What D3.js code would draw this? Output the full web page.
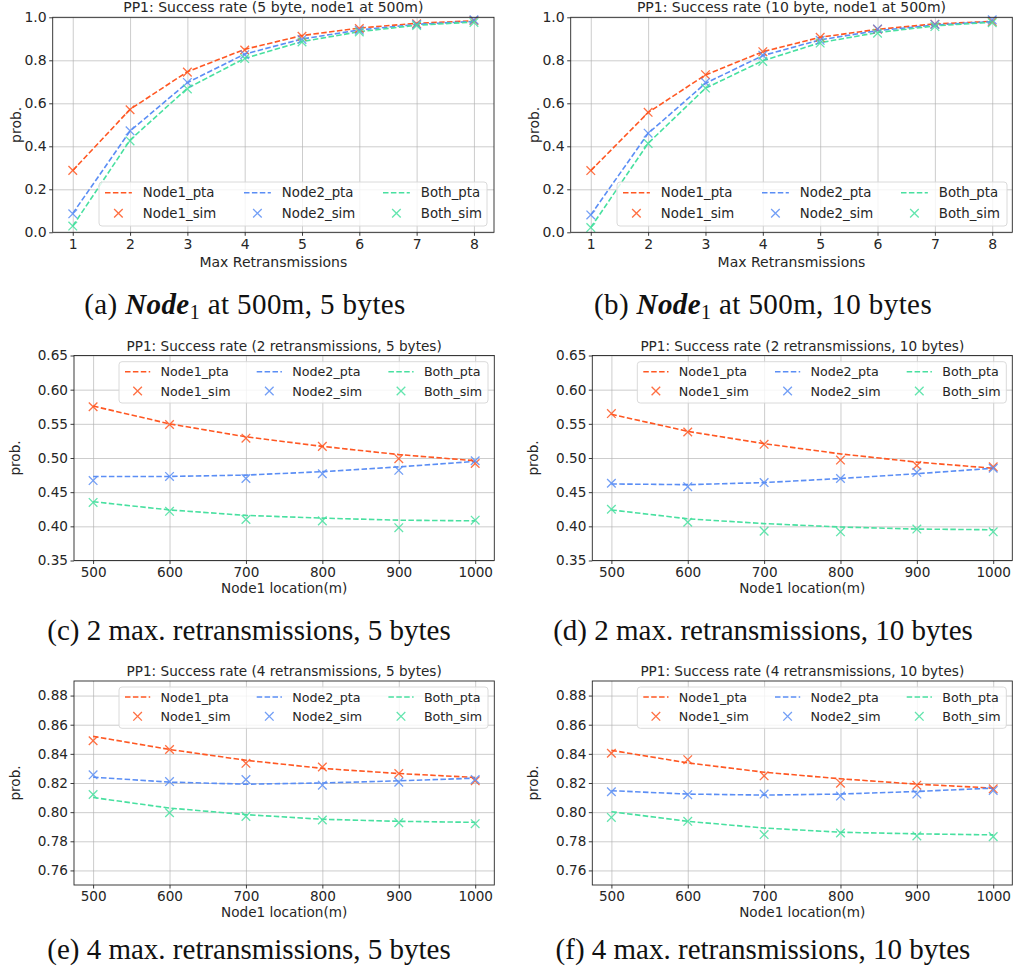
<!DOCTYPE html>
<meta charset="utf-8">
<style>
body { margin: 0; background: #fff; }
svg text { font-family: "DejaVu Sans", sans-serif; fill: #262626; }
.grid line { stroke: #b0b0b0; stroke-opacity: 0.7; stroke-width: 0.9; }
.grid path { display: none; }
.axis path, .axis line { stroke: #262626; stroke-width: 0.9; }
.caption { font-family: "Liberation Serif", serif; fill: #111; }
</style>
<svg id="fig" width="1013" height="974"></svg>
<script src="https://d3js.org/d3.v7.min.js"></script>
<script>

// x values
var retrans = [1, 2, 3, 4, 5, 6, 7, 8];
var locations = [500, 600, 700, 800, 900, 1000];
var names = ["Node1_pta", "Node1_sim", "Node2_pta", "Node2_sim", "Both_pta", "Both_sim"];

// (a) node1 at 500m, 5 bytes
var a_node1_pta = [0.287, 0.572, 0.747, 0.851, 0.915, 0.950, 0.972, 0.984];
var a_node1_sim = [0.288, 0.570, 0.745, 0.848, 0.912, 0.948, 0.970, 0.985];
var a_node2_pta = [0.088, 0.471, 0.696, 0.829, 0.899, 0.941, 0.967, 0.981];
var a_node2_sim = [0.086, 0.472, 0.697, 0.826, 0.897, 0.940, 0.967, 0.988];
var a_both_pta  = [0.029, 0.429, 0.670, 0.809, 0.887, 0.933, 0.963, 0.978];
var a_both_sim  = [0.029, 0.425, 0.667, 0.808, 0.885, 0.932, 0.962, 0.976];

// (b) node1 at 500m, 10 bytes
var b_node1_pta = [0.287, 0.557, 0.732, 0.840, 0.907, 0.944, 0.969, 0.981];
var b_node1_sim = [0.287, 0.558, 0.733, 0.840, 0.907, 0.944, 0.968, 0.980];
var b_node2_pta = [0.081, 0.460, 0.693, 0.822, 0.895, 0.938, 0.964, 0.980];
var b_node2_sim = [0.081, 0.461, 0.697, 0.824, 0.893, 0.946, 0.967, 0.988];
var b_both_pta  = [0.022, 0.414, 0.670, 0.798, 0.882, 0.929, 0.960, 0.977];
var b_both_sim  = [0.022, 0.413, 0.671, 0.795, 0.880, 0.926, 0.957, 0.975];

// (c) 2 retransmissions, 5 bytes
var c_node1_pta = [0.576, 0.550, 0.531, 0.517, 0.505, 0.496];
var c_node1_sim = [0.575, 0.549, 0.529, 0.517, 0.499, 0.492];
var c_node2_pta = [0.473, 0.473, 0.475, 0.480, 0.487, 0.495];
var c_node2_sim = [0.467, 0.473, 0.470, 0.477, 0.482, 0.496];
var c_both_pta  = [0.436, 0.424, 0.416, 0.412, 0.409, 0.408];
var c_both_sim  = [0.435, 0.422, 0.410, 0.408, 0.398, 0.409];

// (d) 2 retransmissions, 10 bytes
var d_node1_pta = [0.564, 0.539, 0.521, 0.506, 0.494, 0.485];
var d_node1_sim = [0.565, 0.538, 0.520, 0.497, 0.489, 0.487];
var d_node2_pta = [0.462, 0.461, 0.464, 0.470, 0.477, 0.485];
var d_node2_sim = [0.463, 0.458, 0.464, 0.470, 0.479, 0.485];
var d_both_pta  = [0.424, 0.411, 0.404, 0.399, 0.396, 0.395];
var d_both_sim  = [0.425, 0.406, 0.393, 0.392, 0.396, 0.392];

// (e) 4 retransmissions, 5 bytes
var e_node1_pta = [0.852, 0.843, 0.8356, 0.830, 0.8265, 0.8238];
var e_node1_sim = [0.849, 0.843, 0.8335, 0.831, 0.8265, 0.8215];
var e_node2_pta = [0.824, 0.8206, 0.8192, 0.820, 0.8215, 0.8233];
var e_node2_sim = [0.8256, 0.821, 0.8224, 0.8185, 0.8206, 0.8224];
var e_both_pta  = [0.810, 0.8028, 0.7983, 0.7951, 0.7937, 0.793];
var e_both_sim  = [0.8121, 0.7996, 0.7971, 0.7946, 0.7928, 0.7921];

// (f) 4 retransmissions, 10 bytes
var f_node1_pta = [0.8424, 0.8338, 0.8274, 0.8229, 0.8192, 0.8165];
var f_node1_sim = [0.8404, 0.836, 0.8249, 0.8199, 0.8185, 0.816];
var f_node2_pta = [0.8147, 0.8124, 0.8117, 0.8124, 0.8142, 0.8165];
var f_node2_sim = [0.814, 0.812, 0.8124, 0.811, 0.8124, 0.8149];
var f_both_pta  = [0.8003, 0.7937, 0.7891, 0.7862, 0.7851, 0.7844];
var f_both_sim  = [0.7964, 0.7937, 0.7846, 0.7857, 0.7837, 0.7832];

var ticksProb = [0, 0.2, 0.4, 0.6, 0.8, 1.0];
var ticks2 = [0.35, 0.40, 0.45, 0.50, 0.55, 0.60, 0.65];
var ticks4 = [0.76, 0.78, 0.80, 0.82, 0.84, 0.86, 0.88];

var colors = ["#ff5722", "#ff5722", "#5b8ef5", "#5b8ef5", "#48e0a0", "#48e0a0"];

var svg = d3.select("#fig");

var panels = [
  { l: 52.7, r: 494, t: 17.3, b: 232.3, xs: retrans, xdom: [0.65, 8.35], ydom: [0, 1], yt: ticksProb, yf: ".1f",
    title: "PP1: Success rate (5 byte, node1 at 500m)", xlabel: "Max Retransmissions",
    series: [a_node1_pta, a_node1_sim, a_node2_pta, a_node2_sim, a_both_pta, a_both_sim],
    fs: 14, lfs: 13.3, leg: { x: 99, y: 182, w: 388, h: 44, col: 139 }, cap: { x: 245, y: 314, tag: "(a)", bytes: "5 bytes" } },
  { l: 570.7, r: 1012.3, t: 17.3, b: 232.3, xs: retrans, xdom: [0.65, 8.35], ydom: [0, 1], yt: ticksProb, yf: ".1f",
    title: "PP1: Success rate (10 byte, node1 at 500m)", xlabel: "Max Retransmissions",
    series: [b_node1_pta, b_node1_sim, b_node2_pta, b_node2_sim, b_both_pta, b_both_sim],
    fs: 14, lfs: 13.3, leg: { x: 617, y: 182, w: 390, h: 44, col: 139 }, cap: { x: 763, y: 314, tag: "(b)", bytes: "10 bytes" } },
  { l: 74, r: 494.3, t: 355.5, b: 560.5, xs: locations, xdom: [475, 1025], ydom: [0.35, 0.65], yt: ticks2, yf: ".2f",
    title: "PP1: Success rate (2 retransmissions, 5 bytes)", xlabel: "Node1 location(m)",
    series: [c_node1_pta, c_node1_sim, c_node2_pta, c_node2_sim, c_both_pta, c_both_sim],
    fs: 13.6, lfs: 12.7, leg: { x: 119, y: 361.7, w: 369, h: 41.3, col: 131.7 }, cap: { x: 249, y: 640, text: "(c) 2 max. retransmissions, 5 bytes" } },
  { l: 592.3, r: 1012.3, t: 355.5, b: 560.5, xs: locations, xdom: [475, 1025], ydom: [0.35, 0.65], yt: ticks2, yf: ".2f",
    title: "PP1: Success rate (2 retransmissions, 10 bytes)", xlabel: "Node1 location(m)",
    series: [d_node1_pta, d_node1_sim, d_node2_pta, d_node2_sim, d_both_pta, d_both_sim],
    fs: 13.6, lfs: 12.7, leg: { x: 637.3, y: 361.7, w: 369, h: 41.3, col: 131.7 }, cap: { x: 763, y: 640, text: "(d) 2 max. retransmissions, 10 bytes" } },
  { l: 74, r: 494.3, t: 681, b: 885, xs: locations, xdom: [475, 1025], ydom: [0.75, 0.89], yt: ticks4, yf: ".2f",
    title: "PP1: Success rate (4 retransmissions, 5 bytes)", xlabel: "Node1 location(m)",
    series: [e_node1_pta, e_node1_sim, e_node2_pta, e_node2_sim, e_both_pta, e_both_sim],
    fs: 13.6, lfs: 12.7, leg: { x: 119, y: 687, w: 369, h: 41.3, col: 131.7 }, cap: { x: 249, y: 959, text: "(e) 4 max. retransmissions, 5 bytes" } },
  { l: 592.3, r: 1012.3, t: 681, b: 885, xs: locations, xdom: [475, 1025], ydom: [0.75, 0.89], yt: ticks4, yf: ".2f",
    title: "PP1: Success rate (4 retransmissions, 10 bytes)", xlabel: "Node1 location(m)",
    series: [f_node1_pta, f_node1_sim, f_node2_pta, f_node2_sim, f_both_pta, f_both_sim],
    fs: 13.6, lfs: 12.7, leg: { x: 637.3, y: 687, w: 369, h: 41.3, col: 131.7 }, cap: { x: 763, y: 959, text: "(f) 4 max. retransmissions, 10 bytes" } }
];

function cross(sel, s) {
  return sel.append("path")
    .attr("d", "M" + (-s) + "," + (-s) + "L" + s + "," + s + "M" + (-s) + "," + s + "L" + s + "," + (-s))
    .attr("fill", "none").attr("stroke-width", 1.3);
}

panels.forEach(function(p) {
  var x = d3.scaleLinear().domain(p.xdom).range([p.l, p.r]);
  var y = d3.scaleLinear().domain(p.ydom).range([p.b, p.t]);
  var g = svg.append("g");
  var h = p.b - p.t, w = p.r - p.l;

  // grid
  g.append("g").attr("class", "grid").attr("transform", "translate(0," + p.b + ")")
    .call(d3.axisBottom(x).tickValues(p.xs).tickSize(-h).tickFormat(""));
  g.append("g").attr("class", "grid").attr("transform", "translate(" + p.l + ",0)")
    .call(d3.axisLeft(y).tickValues(p.yt).tickSize(-w).tickFormat(""));

  // lines
  var line = d3.line().x(function(d, i) { return x(p.xs[i]); }).y(function(d) { return y(d); });
  [0, 2, 4].forEach(function(k) {
    g.append("path").datum(p.series[k]).attr("d", line)
      .attr("fill", "none").attr("stroke", colors[k]).attr("stroke-width", 1.6)
      .attr("stroke-dasharray", "5.5,2.4");
  });
  // sim markers
  [1, 3, 5].forEach(function(k) {
    g.append("g").selectAll("g").data(p.series[k]).enter().append("g")
      .attr("transform", function(d, i) { return "translate(" + x(p.xs[i]) + "," + y(d) + ")"; })
      .attr("stroke", colors[k]).attr("stroke-opacity", 0.85)
      .each(function() { cross(d3.select(this), 4.3); });
  });

  // frame
  g.append("rect").attr("x", p.l).attr("y", p.t).attr("width", w).attr("height", h)
    .attr("fill", "none").attr("stroke", "#262626").attr("stroke-width", 0.9);

  // axes
  var ax = g.append("g").attr("class", "axis").attr("transform", "translate(0," + p.b + ")")
    .call(d3.axisBottom(x).tickValues(p.xs).tickSize(3.5).tickPadding(3).tickFormat(d3.format("d")));
  ax.select(".domain").remove();
  ax.selectAll("text").attr("font-size", p.fs).style("font-family", "DejaVu Sans").attr("fill", "#262626");
  var ay = g.append("g").attr("class", "axis").attr("transform", "translate(" + p.l + ",0)")
    .call(d3.axisLeft(y).tickValues(p.yt).tickSize(3.5).tickPadding(2.5).tickFormat(d3.format(p.yf)));
  ay.select(".domain").remove();
  ay.selectAll("text").attr("font-size", p.fs).style("font-family", "DejaVu Sans").attr("fill", "#262626");

  // labels
  g.append("text").attr("x", (p.l + p.r) / 2).attr("y", p.t - 5).attr("text-anchor", "middle")
    .attr("font-size", p.fs).text(p.title);
  g.append("text").attr("x", (p.l + p.r) / 2).attr("y", p.b + (p.fs > 13.8 ? 34.5 : 32)).attr("text-anchor", "middle")
    .attr("font-size", p.fs).text(p.xlabel);
  var ylx = p.xs === retrans ? p.l - 37 : p.l - 59;
  g.append("text").attr("transform", "translate(" + (ylx + 5) + "," + ((p.t + p.b) / 2) + ") rotate(-90)")
    .attr("text-anchor", "middle").attr("font-size", p.fs).text("prob.");

  // legend
  var L = p.leg;
  var lg = g.append("g").attr("transform", "translate(" + L.x + "," + L.y + ")");
  lg.append("rect").attr("width", L.w).attr("height", L.h).attr("rx", 3)
    .attr("fill", "#fff").attr("fill-opacity", 0.8).attr("stroke", "#d6d6d6").attr("stroke-width", 0.9);
  var rowY = [L.h * 0.243, L.h * 0.71];
  names.forEach(function(nm, k) {
    var col = Math.floor(k / 2), row = k % 2;
    var ix = 6 + col * L.col, iy = rowY[row];
    if (row === 0) {
      lg.append("line").attr("x1", ix).attr("x2", ix + L.h * 0.61).attr("y1", iy).attr("y2", iy)
        .attr("stroke", colors[k]).attr("stroke-width", 1.6).attr("stroke-dasharray", "5.5,2.4");
    } else {
      var m = lg.append("g").attr("transform", "translate(" + (ix + L.h * 0.305) + "," + iy + ")")
        .attr("stroke", colors[k]).attr("stroke-opacity", 0.85);
      cross(m, 4.3);
    }
    lg.append("text").attr("x", ix + L.h * 0.86).attr("y", iy).attr("dy", "0.36em")
      .attr("font-size", p.lfs).text(nm);
  });

  // caption
  var c = p.cap;
  var ct = svg.append("text").attr("class", "caption").attr("x", c.x).attr("y", c.y)
    .attr("text-anchor", "middle").attr("font-size", 29);
  if (c.text) {
    ct.text(c.text);
  } else {
    ct.attr("letter-spacing", 0.4);
    ct.append("tspan").text(c.tag + " ");
    ct.append("tspan").attr("font-weight", "bold").attr("font-style", "italic").text("Node");
    ct.append("tspan").attr("font-size", 20).attr("dy", 5).text("1");
    ct.append("tspan").attr("dy", -5).text(" at 500m, " + c.bytes);
  }
});

</script>
